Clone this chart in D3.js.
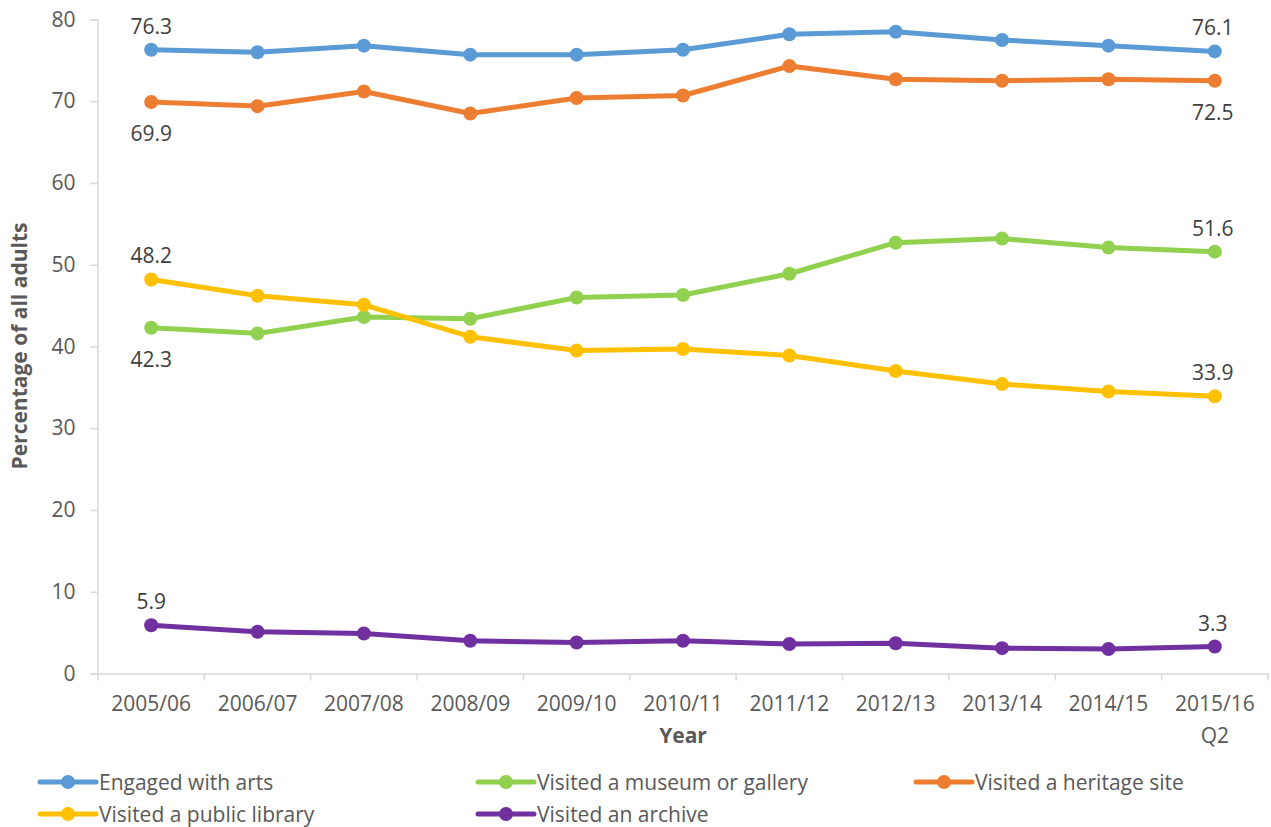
<!DOCTYPE html>
<html><head><meta charset="utf-8">
<script src="https://cdn.jsdelivr.net/npm/d3@7"></script>
<style>body{margin:0;background:#fff}svg{display:block}text{font-family:"Open Sans",sans-serif}</style>
</head><body>
<svg id="c" width="1271" height="827"></svg>
<script>
const years = ["2005/06","2006/07","2007/08","2008/09","2009/10","2010/11","2011/12","2012/13","2013/14","2014/15","2015/16 Q2"];
const arts     = [76.3,76.0,76.8,75.7,75.7,76.3,78.2,78.5,77.5,76.8,76.1];
const heritage = [69.9,69.4,71.2,68.5,70.4,70.7,74.3,72.7,72.5,72.7,72.5];
const museum   = [42.3,41.6,43.6,43.4,46.0,46.3,48.9,52.7,53.2,52.1,51.6];
const library  = [48.2,46.2,45.1,41.2,39.5,39.7,38.9,37.0,35.4,34.5,33.9];
const archive  = [5.9,5.1,4.9,4.0,3.8,4.0,3.6,3.7,3.1,3.0,3.3];
const yTicks = [0,10,20,30,40,50,60,70,80];

const series = [
  {name:"Engaged with arts", values:arts, color:"#5B9BD5", first:"above", last:"above"},
  {name:"Visited a heritage site", values:heritage, color:"#ED7D31", first:"below", last:"below"},
  {name:"Visited a museum or gallery", values:museum, color:"#92D050", first:"below", last:"above"},
  {name:"Visited a public library", values:library, color:"#FFC000", first:"above", last:"above"},
  {name:"Visited an archive", values:archive, color:"#7030A0", first:"above", last:"above"}
];
const legendOrder = [
  {s:0,col:0,row:0},{s:2,col:1,row:0},{s:1,col:2,row:0},
  {s:3,col:0,row:1},{s:4,col:1,row:1}
];

const svg = d3.select("#c");
const x = d3.scaleBand().domain(years).range([98,1268]).padding(0);
const y = d3.scaleLinear().domain([0,80]).range([673.5,19.5]);
const cx = d => x(d) + x.bandwidth()/2;
const axisColor = "#D9D9D9", textColor = "#595959";

// Y axis
const ya = svg.append("g").attr("transform","translate(97.5,0)")
  .call(d3.axisLeft(y).tickValues(yTicks).tickSize(7).tickPadding(15).tickFormat(d3.format("d")));
ya.select(".domain").attr("stroke",axisColor).attr("stroke-width",1.5);
ya.selectAll(".tick line").attr("stroke",axisColor).attr("stroke-width",1.5);
ya.selectAll(".tick text").attr("fill",textColor).attr("font-size",21).attr("font-family","Open Sans");

// X axis
const xa = svg.append("g").attr("transform","translate(0,673.5)")
  .call(d3.axisBottom(x).tickSize(0).tickFormat(""));
xa.select(".domain").attr("stroke",axisColor).attr("stroke-width",1.5);
const bounds = years.map(d => x(d)).concat([x.range()[1]]);
xa.selectAll(".bt").data(bounds).enter().append("line")
  .attr("x1",d=>d).attr("x2",d=>d).attr("y1",0).attr("y2",7)
  .attr("stroke",axisColor).attr("stroke-width",1.5);
const xl = svg.append("g");
years.forEach(yr => {
  const parts = yr.split(" ");
  const t = xl.append("text").attr("x",cx(yr)).attr("y",711).attr("text-anchor","middle")
    .attr("fill",textColor).attr("font-size",21);
  parts.forEach((p,i)=>{
    t.append("tspan").attr("x",cx(yr)).attr("dy", i===0?0:32).text(p);
  });
});

// Axis titles
svg.append("text").attr("x",683).attr("y",743).attr("text-anchor","middle")
  .attr("fill",textColor).attr("font-size",21).attr("font-weight","bold").text("Year");
svg.append("text").attr("transform","translate(27,346) rotate(-90)").attr("text-anchor","middle")
  .attr("fill",textColor).attr("font-size",21).attr("font-weight","bold").text("Percentage of all adults");

// Lines
const line = d3.line().x((d,i)=>cx(years[i])).y(d=>y(d));
series.forEach(s => {
  const g = svg.append("g");
  g.append("path").datum(s.values).attr("d",line).attr("fill","none")
    .attr("stroke",s.color).attr("stroke-width",5).attr("stroke-linejoin","round");
  g.selectAll("circle").data(s.values).enter().append("circle")
    .attr("cx",(d,i)=>cx(years[i])).attr("cy",d=>y(d)).attr("r",7).attr("fill",s.color);
  [[0,s.first],[s.values.length-1,s.last]].forEach(([i,pos])=>{
    const v = s.values[i];
    svg.append("text").attr("x",cx(years[i]) + (i===0?0:-2)).attr("y", pos==="above" ? y(v)-16 : y(v)+39)
      .attr("text-anchor","middle").attr("fill","#404040").attr("font-size",21).text(d3.format(".1f")(v));
  });
});

// Legend
const colX = [40,478,916], rowY = [782,814];
legendOrder.forEach(l => {
  const s = series[l.s];
  const gx = colX[l.col], gy = rowY[l.row];
  const g = svg.append("g");
  g.append("line").attr("x1",gx).attr("x2",gx+56).attr("y1",gy).attr("y2",gy)
    .attr("stroke",s.color).attr("stroke-width",5).attr("stroke-linecap","round");
  g.append("circle").attr("cx",gx+28).attr("cy",gy).attr("r",7).attr("fill",s.color);
  g.append("text").attr("x",gx+59).attr("y",gy+7.5).attr("fill",textColor).attr("font-size",21).text(s.name);
});
</script>
</body></html>
